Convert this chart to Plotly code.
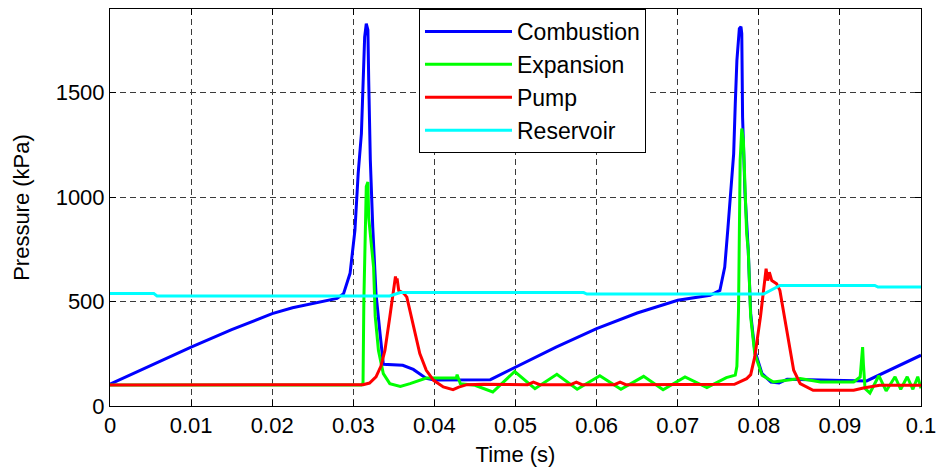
import plotly.graph_objects as go

# Combustion chamber pressure (kPa) vs time (s)
comb_t = [0, 0.005, 0.01, 0.015, 0.0175, 0.02, 0.0225, 0.025, 0.028, 0.0288, 0.0296, 0.0302,
          0.0306, 0.0310, 0.0312, 0.0314, 0.0316, 0.0318, 0.0319, 0.0321, 0.0324, 0.0328,
          0.0333, 0.0337, 0.0361, 0.0374, 0.0390, 0.0400, 0.0469, 0.05, 0.055, 0.06, 0.065,
          0.07, 0.074, 0.0752, 0.0758, 0.0762, 0.0765, 0.0769, 0.0771, 0.0773, 0.0776,
          0.0778, 0.0779, 0.0780, 0.0783, 0.0787, 0.0790, 0.0795, 0.0804, 0.0815, 0.0825,
          0.0835, 0.0933, 0.1]
comb_p = [105, 195, 282, 365, 405, 442, 470, 492, 515, 538, 635, 840,
          1112, 1304, 1526, 1766, 1830, 1800, 1558, 1176, 855, 537,
          346, 200, 195, 175, 132, 125, 126, 187, 282, 370, 445,
          506, 530, 553, 665, 855, 1016, 1207, 1447, 1654, 1806,
          1815, 1782, 1382, 1016, 745, 442, 266, 155, 115, 110,
          128, 120, 243]

# Expansion chamber pressure
exp_t = [0, 0.0310, 0.0312, 0.0313, 0.0316, 0.0318, 0.0319, 0.0321, 0.0325, 0.0327,
         0.0331, 0.0337, 0.0345, 0.0358, 0.0370, 0.0390, 0.0407, 0.0427, 0.0428, 0.0432,
         0.0450, 0.0472, 0.0499, 0.0524, 0.0551, 0.0576, 0.0604, 0.0630, 0.0658, 0.0682,
         0.0709, 0.0736, 0.0760, 0.0771, 0.0773, 0.0775, 0.0777, 0.0779, 0.0781, 0.0785,
         0.0787, 0.0790, 0.0795, 0.0804, 0.0818, 0.0835, 0.0851, 0.0876, 0.0917, 0.0925,
         0.0928, 0.0929, 0.0931, 0.0937, 0.0948, 0.0957, 0.0968, 0.0975, 0.0983, 0.0990,
         0.0996, 0.1]
exp_p = [100, 100, 110, 500, 1050, 1072, 900, 825, 665, 430,
         266, 155, 107, 94, 107, 134, 135, 134, 150, 107,
         99, 67, 165, 83, 152, 80, 145, 80, 142, 78,
         139, 88, 136, 148, 190, 460, 1176, 1328, 1271, 825,
         745, 426, 251, 147, 115, 123, 131, 115, 115, 139,
         282, 200, 83, 62, 145, 72, 140, 80, 140, 80,
         140, 85]

# Pump chamber pressure
pump_t = [0, 0.0312, 0.0320, 0.0328, 0.0334, 0.0339, 0.0345, 0.0349, 0.0352, 0.0353,
          0.0354, 0.0356, 0.0362, 0.0366, 0.0374, 0.0382, 0.0390, 0.0399, 0.0411, 0.0423,
          0.0430, 0.0440, 0.0460, 0.0515, 0.0522, 0.0530, 0.0568, 0.0575, 0.0582, 0.0622,
          0.0629, 0.0636, 0.0770, 0.0785, 0.0790, 0.0795, 0.0802, 0.0806, 0.0809, 0.0811,
          0.0813, 0.0816, 0.0822, 0.0826, 0.0835, 0.0843, 0.0851, 0.0867, 0.0917, 0.0929,
          0.0949, 0.1]
pump_p = [100, 102, 110, 139, 190, 266, 426, 553, 620, 590,
          610, 553, 540, 521, 378, 251, 171, 123, 91, 78,
          90, 102, 104, 102, 114, 102, 102, 114, 102, 102,
          114, 102, 104, 131, 150, 235, 426, 553, 657, 600,
          640, 600, 585, 553, 346, 171, 107, 75, 75, 86,
          99, 99]

# Reservoir pressure
res_t = [0, 0.0054, 0.0058, 0.0345, 0.0358, 0.0584, 0.0588, 0.0806, 0.0826, 0.0943, 0.0947, 0.1]
res_p = [538, 538, 527, 527, 543, 543, 536, 536, 577, 577, 569, 569]

x_ticks = [0, 0.01, 0.02, 0.03, 0.04, 0.05, 0.06, 0.07, 0.08, 0.09, 0.1]
x_labels = ["0", "0.01", "0.02", "0.03", "0.04", "0.05", "0.06", "0.07", "0.08", "0.09", "0.1"]
y_ticks = [0, 500, 1000, 1500]
y_labels = ["0", "500", "1000", "1500"]

series = [
    ("Combustion", comb_t, comb_p, "#0000ff"),
    ("Expansion", exp_t, exp_p, "#00ff00"),
    ("Pump", pump_t, pump_p, "#ff0000"),
    ("Reservoir", res_t, res_p, "#00ffff"),
]

fig = go.Figure()
for name, t, p, color in series:
    fig.add_trace(go.Scatter(x=t, y=p, mode="lines", name=name,
                             line=dict(color=color, width=3)))

font_family = "Arial, Liberation Sans, sans-serif"
axis_common = dict(
    showline=True, linecolor="black", linewidth=1, mirror="ticks",
    ticks="inside", ticklen=6, tickcolor="black",
    showgrid=True, gridcolor="#3a3a3a", gridwidth=1, griddash="6px,4px",
    zeroline=False, automargin=False,
    tickfont=dict(family=font_family, size=22, color="black"),
    title_font=dict(family=font_family, size=22, color="black"),
)

fig.update_xaxes(range=[0, 0.1], tickvals=x_ticks, ticktext=x_labels,
                 title_text="Time (s)", title_standoff=9, **axis_common)
fig.update_yaxes(range=[0, 1900], tickvals=y_ticks, ticktext=y_labels,
                 title_text="Pressure (kPa)", title_standoff=19, **axis_common)

fig.update_layout(
    width=938, height=468,
    margin=dict(l=110, r=17, t=9, b=62),
    paper_bgcolor="white", plot_bgcolor="white",
    showlegend=True,
    legend=dict(
        x=0.381, y=1.0, xanchor="left", yanchor="top",
        bgcolor="white", bordercolor="black", borderwidth=1,
        font=dict(family=font_family, size=23, color="black"),
        itemwidth=87, tracegroupgap=0,
    ),
)

fig.write_html("out.html")
